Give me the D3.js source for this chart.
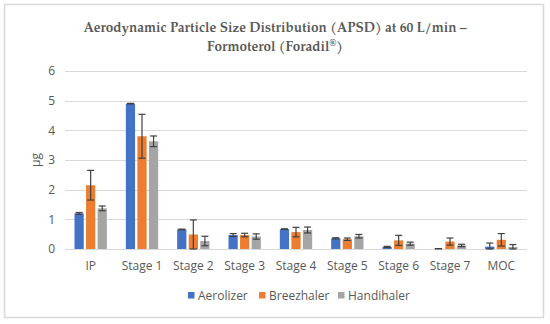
<!DOCTYPE html>
<html>
<head>
<meta charset="utf-8">
<script src="https://cdn.jsdelivr.net/npm/d3@7"></script>
<style>
  body { margin: 0; background: #fff; }
  svg { display: block; }
</style>
</head>
<body>
<div id="chart"></div>
<script>
const width = 550;
const height = 324;

// Data
const stages = ["IP", "Stage 1", "Stage 2", "Stage 3", "Stage 4", "Stage 5", "Stage 6", "Stage 7", "MOC"];
const devices = ["Aerolizer", "Breezhaler", "Handihaler"];
const aerolizer = [1.20, 4.90, 0.66, 0.47, 0.67, 0.36, 0.07, 0.01, 0.08];
const aerolizerErr = [0.03, 0.01, 0.01, 0.05, 0.01, 0.02, 0.02, 0.00, 0.12];
const breezhaler = [2.15, 3.80, 0.49, 0.47, 0.57, 0.33, 0.29, 0.25, 0.31];
const breezhalerErr = [0.50, 0.74, 0.49, 0.06, 0.16, 0.04, 0.17, 0.12, 0.21];
const handihaler = [1.37, 3.63, 0.27, 0.42, 0.64, 0.43, 0.18, 0.12, 0.07];
const handihalerErr = [0.08, 0.18, 0.16, 0.09, 0.10, 0.06, 0.05, 0.04, 0.08];
const yTicks = [0, 1, 2, 3, 4, 5, 6];
const colors = ["#4472C4", "#ED7D31", "#A5A5A5"];

const values = [aerolizer, breezhaler, handihaler];
const errors = [aerolizerErr, breezhalerErr, handihalerErr];

const margin = { top: 71, right: 23, bottom: 75, left: 65 };

const svg = d3.select("#chart").append("svg")
    .attr("width", width)
    .attr("height", height);

// chart frame
svg.append("rect")
    .attr("x", 4.5).attr("y", 4.5)
    .attr("width", 539).attr("height", 313)
    .attr("fill", "#fff")
    .attr("stroke", "#d9d9d9")
    .attr("stroke-width", 1.5);

// title
const title = svg.append("text")
    .attr("text-anchor", "middle")
    .style("font-family", "'Palatino Linotype', 'TeX Gyre Pagella', 'DejaVu Serif', 'Liberation Serif', serif")
    .style("font-size", "13.5px")
    .style("font-weight", "bold")
    .style("fill", "#595959");
title.append("tspan").attr("x", 275).attr("y", 32)
    .text("Aerodynamic Particle Size Distribution (APSD) at 60 L/min \u2013");
const t2 = title.append("tspan").attr("x", 275).attr("y", 51).text("Formoterol (Foradil");
t2.append("tspan").attr("font-size", "9px").attr("dy", -5).text("\u00AE");
t2.append("tspan").attr("dy", 5).text(")");

const x = d3.scaleBand()
    .domain(stages)
    .range([margin.left, width - margin.right])
    .paddingInner(0.37)
    .paddingOuter(0.185);

const x1 = d3.scaleBand()
    .domain(devices)
    .range([0, x.bandwidth()])
    .paddingInner(0.2);

const y = d3.scaleLinear()
    .domain([0, 6])
    .range([height - margin.bottom, margin.top]);

const font = "'Open Sans', 'Liberation Sans', sans-serif";

// gridlines
svg.append("g")
    .selectAll("line")
    .data(yTicks)
    .enter().append("line")
    .attr("x1", margin.left)
    .attr("x2", width - margin.right)
    .attr("y1", d => Math.round(y(d)) + 0.5)
    .attr("y2", d => Math.round(y(d)) + 0.5)
    .style("stroke", "#d9d9d9")
    .style("stroke-width", 1);

// y axis labels
const yAxis = svg.append("g")
    .attr("transform", `translate(${margin.left - 10},0)`)
    .call(d3.axisLeft(y).tickValues(yTicks).tickSize(0).tickPadding(0).tickFormat(d3.format("d")));
yAxis.select(".domain").remove();
yAxis.selectAll("text")
    .style("font-family", font)
    .style("font-size", "12px")
    .style("fill", "#595959");

// x axis labels
const xAxis = svg.append("g")
    .attr("transform", `translate(0,${height - margin.bottom})`)
    .call(d3.axisBottom(x).tickSize(0).tickPadding(12));
xAxis.select(".domain").remove();
xAxis.selectAll("text")
    .style("font-family", font)
    .style("font-size", "12px")
    .style("fill", "#595959");

// y label
svg.append("text")
    .attr("transform", `translate(40,${y(3)}) rotate(-90)`)
    .attr("text-anchor", "middle")
    .style("font-family", font)
    .style("font-size", "12px")
    .style("fill", "#595959")
    .text("\u03BCg");

// bars
const groups = svg.append("g")
    .selectAll("g")
    .data(stages)
    .enter().append("g")
    .attr("transform", d => `translate(${x(d)},0)`);

const rows = (d, i) => devices.map((dev, k) => ({
    dev: dev, k: k, v: values[k][i], e: errors[k][i]
}));

groups.selectAll("rect")
    .data(rows)
    .enter().append("rect")
    .attr("x", d => x1(d.dev))
    .attr("y", d => y(d.v))
    .attr("width", x1.bandwidth())
    .attr("height", d => y(0) - y(d.v))
    .style("fill", d => colors[d.k]);

// error bars
const eb = groups.selectAll("g.err")
    .data(rows)
    .enter().append("g")
    .attr("class", "err")
    .style("stroke", "#404040")
    .style("stroke-width", 1.2);

const cx = d => x1(d.dev) + x1.bandwidth() / 2;
const hi = d => y(d.v + d.e);
const lo = d => y(Math.max(0, d.v - d.e));

eb.append("line")
    .attr("x1", cx).attr("x2", cx)
    .attr("y1", hi).attr("y2", lo);
eb.append("line")
    .attr("x1", d => cx(d) - 3.5).attr("x2", d => cx(d) + 3.5)
    .attr("y1", hi).attr("y2", hi);
eb.append("line")
    .attr("x1", d => cx(d) - 3.5).attr("x2", d => cx(d) + 3.5)
    .attr("y1", lo).attr("y2", lo);

// legend
const legendX = [188, 259, 338];
const legend = svg.append("g")
    .selectAll("g")
    .data(devices)
    .enter().append("g")
    .attr("transform", (d, i) => `translate(${legendX[i]},292)`);

legend.append("rect")
    .attr("width", 6.5).attr("height", 6.5)
    .style("fill", (d, i) => colors[i]);

legend.append("text")
    .attr("x", 10)
    .attr("y", 7.5)
    .style("font-family", font)
    .style("font-size", "12px")
    .style("fill", "#595959")
    .text(d => d);
</script>
</body>
</html>
